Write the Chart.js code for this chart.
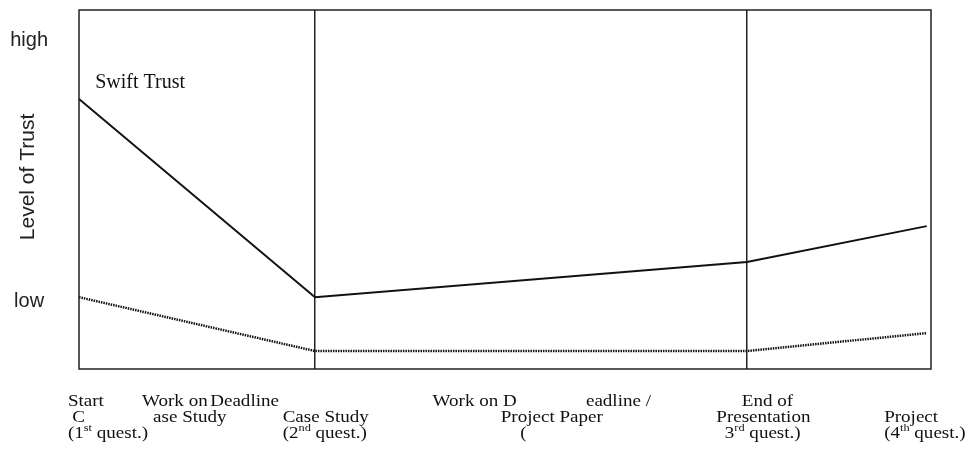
<!DOCTYPE html>
<html>
<head>
<meta charset="utf-8">
<script src="https://cdn.jsdelivr.net/npm/chart.js@4"></script>
<style>
  body { margin: 0; background: #fff; }
  #wrap { width: 971px; height: 457px; }
</style>
</head>
<body>
<div id="wrap"><canvas id="myChart"></canvas></div>
<script>
// phase positions on the time axis (0..10)
var xPoints = [0, 2.77, 7.84, 9.95];
var swiftTrust = [7.52, 2.0, 2.98, 3.98];
var lowTrust = [2.0, 0.5, 0.5, 1.0];
var phaseLines = [2.77, 7.84];
var yTickValues = [1.87, 9.16];
var yTickLabels = ['low', 'high'];
var yTitle = 'Level of Trust';
var seriesLabel = { text: 'Swift Trust', x: 0.19, y: 7.83 };

// x-axis captions, broken across three lines like the original
var capLine1 = [['Start', -0.13], ['Work on', 0.74], ['Deadline', 1.54], ['Work on D', 4.15], ['eadline /', 5.95], ['End of', 7.78]];
var capLine2 = [['C', -0.08], ['ase Study', 0.87], ['Case Study', 2.39], ['Project Paper', 4.95], ['Presentation', 7.48], ['Project', 9.45]];
var capLine3 = [['(1^st^ quest.)', -0.13], ['(2^nd^ quest.)', 2.39], ['(', 5.18], ['3^rd^ quest.)', 7.58], ['(4^th^ quest.)', 9.45]];

function pts(ys) {
  return xPoints.map(function (x, i) { return { x: x, y: ys[i] }; });
}

function drawCaption(ctx, str, px, py) {
  var parts = str.split('^');
  var sx = 1.12;
  ctx.save();
  ctx.translate(px, py);
  ctx.scale(sx, 1);
  var cur = 0;
  for (var i = 0; i < parts.length; i++) {
    if (!parts[i]) continue;
    if (i % 2 == 1) {
      ctx.font = '11px "Liberation Serif"';
      ctx.fillText(parts[i], cur, -7);
    } else {
      ctx.font = '17px "Liberation Serif"';
      ctx.fillText(parts[i], cur, 0);
    }
    cur += ctx.measureText(parts[i]).width;
  }
  ctx.restore();
}

var extras = {
  id: 'extras',
  beforeDatasetsDraw: function (chart) {
    var a = chart.chartArea, ctx = chart.ctx;
    ctx.save();
    ctx.strokeStyle = '#222';
    ctx.lineWidth = 1.5;
    ctx.strokeRect(a.left, a.top, a.right - a.left, a.bottom - a.top);
    ctx.restore();
  },
  afterDraw: function (chart) {
    var ctx = chart.ctx, xs = chart.scales.x, ys = chart.scales.y, a = chart.chartArea;
    ctx.save();
    ctx.fillStyle = '#111';
    ctx.textBaseline = 'alphabetic';
    ctx.textAlign = 'left';
    // series label
    ctx.font = '20px "Liberation Serif"';
    ctx.fillText(seriesLabel.text, xs.getPixelForValue(seriesLabel.x), ys.getPixelForValue(seriesLabel.y));
    // captions
    [capLine1, capLine2, capLine3].forEach(function (line, li) {
      var py = a.bottom + 37 + li * 16;
      line.forEach(function (c) {
        drawCaption(ctx, c[0], xs.getPixelForValue(c[1]), py);
      });
    });
    // y title
    ctx.fillStyle = '#222';
    ctx.font = '21px "Liberation Sans"';
    ctx.textAlign = 'center';
    ctx.textBaseline = 'middle';
    ctx.translate(28, 177);
    ctx.rotate(-Math.PI / 2);
    ctx.fillText(yTitle, 0, 0);
    ctx.restore();
  }
};

var ctx1 = document.getElementById('myChart').getContext('2d');
var graph = new Chart(ctx1, {
  type: 'line',
  data: {
    datasets: [{
      label: 'Swift Trust',
      data: pts(swiftTrust),
      borderColor: '#111',
      borderWidth: 2,
      pointStyle: false,
      tension: 0
    }, {
      label: 'low',
      data: pts(lowTrust),
      borderColor: '#111',
      borderWidth: 2.5,
      borderDash: [1.5, 1],
      pointStyle: false,
      tension: 0
    }]
  },
  options: {
    responsive: true,
    maintainAspectRatio: false,
    animation: false,
    layout: { padding: { top: 10, right: 40, left: 0, bottom: 0 } },
    plugins: {
      legend: { display: false },
      tooltip: { enabled: false }
    },
    scales: {
      x: {
        type: 'linear',
        min: 0,
        max: 10,
        afterBuildTicks: function (scale) {
          scale.ticks = phaseLines.map(function (v) { return { value: v }; });
        },
        afterFit: function (scale) {
          scale.height = 88;
          scale.paddingLeft = 0; scale.paddingRight = 0;
          scale.paddingTop = 0; scale.paddingBottom = 0;
        },
        ticks: { display: false },
        grid: { color: '#222', lineWidth: 1.5, drawTicks: false },
        border: { display: false }
      },
      y: {
        min: 0,
        max: 10,
        afterBuildTicks: function (scale) {
          scale.ticks = yTickValues.map(function (v) { return { value: v }; });
        },
        afterFit: function (scale) {
          scale.width = 79;
          scale.paddingTop = 0; scale.paddingBottom = 0;
          scale.paddingLeft = 0; scale.paddingRight = 0;
        },
        ticks: {
          padding: 23,
          crossAlign: 'center',
          color: '#222',
          font: { family: 'Liberation Sans', size: 20 },
          callback: function (v) {
            var i = yTickValues.indexOf(v);
            return i >= 0 ? yTickLabels[i] : '';
          }
        },
        grid: { display: false },
        border: { display: false }
      }
    }
  },
  plugins: [extras]
});
</script>
</body>
</html>
